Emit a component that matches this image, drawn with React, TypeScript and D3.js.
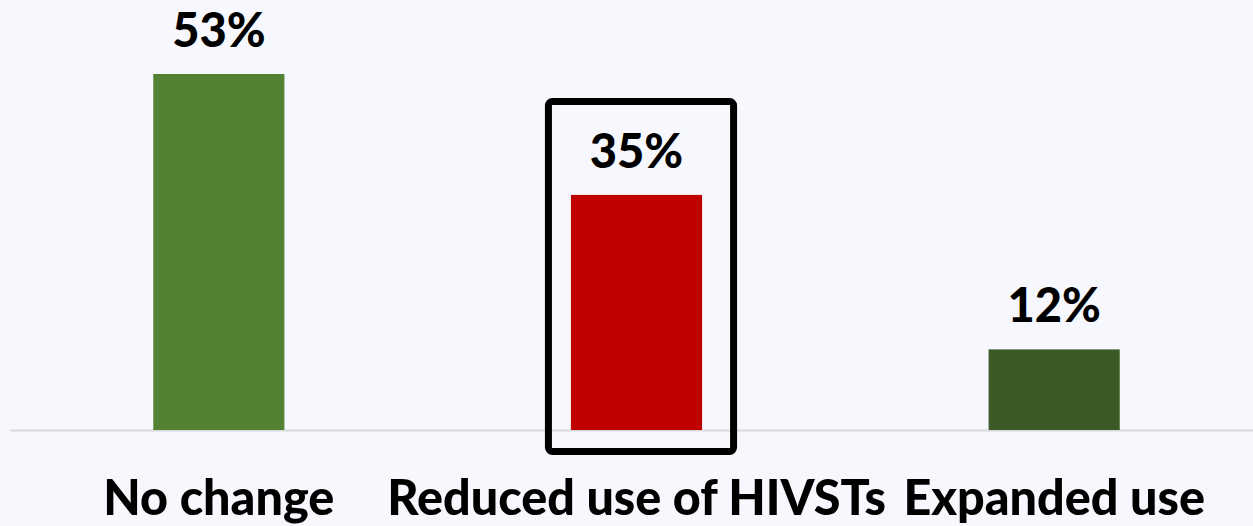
import React, { useEffect, useRef } from "react";
import * as d3 from "d3";

const categories = ["No change", "Reduced use of HIVSTs", "Expanded use"];
const values = [53, 35, 12];
const barColors = ["#548235", "#C00000", "#3B5A25"];
const highlighted = "Reduced use of HIVSTs";

export default function App() {
  const ref = useRef<SVGSVGElement>(null);

  useEffect(() => {
    document.body.style.margin = "0";
    const width = 1253,
      height = 526;
    const baseY = 430;

    const svg = d3.select(ref.current);
    svg.selectAll("*").remove();

    svg
      .append("rect")
      .attr("width", width)
      .attr("height", height)
      .attr("fill", "#F7F8FE");

    const x = d3
      .scaleBand()
      .domain(categories)
      .range([10, 1263])
      .paddingInner(0.686)
      .paddingOuter(0.343);

    const y = d3.scaleLinear().domain([0, 53]).range([baseY, 74]);

    // baseline
    svg
      .append("line")
      .attr("x1", 10)
      .attr("x2", width)
      .attr("y1", baseY + 0.5)
      .attr("y2", baseY + 0.5)
      .attr("stroke", "#D9D9D9")
      .attr("stroke-width", 2);

    const data = categories.map((c, i) => ({ name: c, value: values[i] }));

    svg
      .selectAll("rect.bar")
      .data(data)
      .enter()
      .append("rect")
      .attr("class", "bar")
      .attr("x", (d) => x(d.name)!)
      .attr("width", x.bandwidth())
      .attr("y", (d) => y(d.value))
      .attr("height", (d) => baseY - y(d.value))
      .attr("fill", (d, i) => barColors[i]);

    const font = "Lato, Carlito, 'Open Sans', sans-serif";

    // value labels
    svg
      .selectAll("text.val")
      .data(data)
      .enter()
      .append("text")
      .attr("class", "val")
      .attr("x", (d) => x(d.name)! + x.bandwidth() / 2)
      .attr("y", (d) => y(d.value) - 27)
      .attr("text-anchor", "middle")
      .style("font-family", font)
      .style("font-weight", 900)
      .style("font-size", "47px")
      .attr("fill", "#000")
      .text((d) => `${d.value}%`);

    // category labels
    svg
      .selectAll("text.cat")
      .data(data)
      .enter()
      .append("text")
      .attr("class", "cat")
      .attr("x", (d) => x(d.name)! + x.bandwidth() / 2)
      .attr("y", 515)
      .attr("text-anchor", "middle")
      .style("font-family", font)
      .style("font-weight", 900)
      .style("font-size", "48.5px")
      .attr("fill", "#000")
      .text((d) => d.name);

    // highlight box around the reduced-use bar
    const hx = x(highlighted)!;
    svg
      .append("rect")
      .attr("x", hx - 22.5)
      .attr("y", 101.5)
      .attr("width", x.bandwidth() + 54)
      .attr("height", 350)
      .attr("rx", 4)
      .attr("fill", "none")
      .attr("stroke", "#000")
      .attr("stroke-width", 7);
  }, []);

  return <svg ref={ref} width={1253} height={526} style={{ display: "block" }} />;
}
